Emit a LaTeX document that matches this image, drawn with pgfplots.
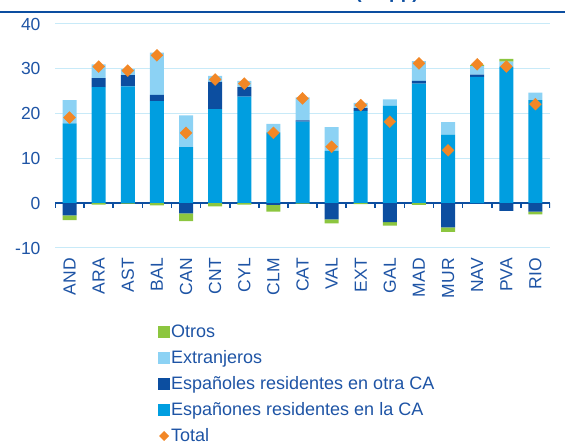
\documentclass[border=0pt]{standalone}
\usepackage{fontspec}
\setmainfont{Liberation Sans}
\usepackage{pgfplots}
\pgfplotsset{compat=1.18}
\usepackage{pgfplotstable}
\definecolor{cmid}{RGB}{0,158,224}
\definecolor{cdark}{RGB}{12,78,160}
\definecolor{clight}{RGB}{140,210,244}
\definecolor{cgreen}{RGB}{140,198,63}
\definecolor{corange}{RGB}{242,135,38}
\definecolor{ctext}{RGB}{30,84,165}
\definecolor{cgrid}{RGB}{200,234,248}

% mid=Espanones en la CA, dpos/dneg=Espanoles otra CA, light=Extranjeros, gpos/gneg=Otros
\pgfplotstableread{
x mid dpos light gpos dneg gneg total
0 17.8 0 5.2 0 -2.7 -1.1 19.1
1 25.9 2.0 3.1 0 0 -0.3 30.5
2 26.1 2.5 1.3 0 0 -0.1 29.6
3 22.8 1.4 9.4 0 0 -0.5 33.0
4 12.5 0 7.1 0 -2.3 -1.7 15.7
5 21.0 6.1 1.3 0 0 -0.7 27.6
6 23.8 2.1 1.4 0 0 -0.3 26.7
7 15.8 0 1.9 0 -0.4 -1.5 15.7
8 18.2 0.3 5.1 0 0 -0.1 23.4
9 11.7 0 5.3 0 -3.6 -0.9 12.6
10 20.6 0.6 1.2 0 0 -0.2 21.9
11 21.8 0 1.4 0 -4.2 -0.8 18.2
12 26.7 0.6 4.4 0 0 -0.4 31.2
13 15.3 0 2.8 0 -5.4 -1.0 11.8
14 28.2 0.5 1.9 0.3 0 0 31.0
15 30.5 0 1.1 0.6 -1.7 0 30.5
16 23.0 0 1.7 0 -1.9 -0.6 22.1
}\data

\pgfplotsset{
  sqlegend/.style={legend image code/.code={\fill[##1, draw=none] (0pt,-6pt) rectangle (12pt,6pt);}},
  diamlegend/.style={legend image code/.code={\path[draw=none, fill=none] (0pt,-6pt) rectangle (12pt,6pt);
      \fill[corange, draw=none] (6pt,-5pt) -- (11pt,0pt) -- (6pt,5pt) -- (1pt,0pt) -- cycle;}},
  common/.style={
    at={(55pt,195pt)}, anchor=south west,
    scale only axis, width=495pt, height=224pt,
    xmin=-0.5, xmax=16.5, ymin=-10, ymax=40,
  }
}

\begin{document}
\begin{tikzpicture}
\useasboundingbox (0,0) rectangle (565pt,443pt);
\draw[cdark, line width=2pt] (0pt,431pt) -- (565pt,431pt);
\node[anchor=base east, inner sep=0pt, text=cdark, font=\bfseries\fontsize{19}{22}\selectfont] at (419pt,444pt) {(en pp)};

\begin{axis}[common,
  ybar stacked, stack negative=separate, bar width=14pt,
  axis line style={draw=none},
  major tick length=0pt,
  ytick={-10,0,10,20,30,40},
  xtick={0,...,16},
  xticklabels={AND,ARA,AST,BAL,CAN,CNT,CYL,CLM,CAT,VAL,EXT,GAL,MAD,MUR,NAV,PVA,RIO},
  ymajorgrids, grid style={cgrid, line width=1pt},
  /pgf/number format/assume math mode=true,
  tick label style={text=ctext, font=\fontsize{17.5}{20}\selectfont},
  yticklabel style={xshift=-11pt},
  xticklabel style={rotate=90, anchor=east, inner xsep=10pt},
  legend cell align=left,
  legend style={at={(0.208,-0.34)}, anchor=north west, draw=none, fill=none,
    font=\fontsize{18}{21}\selectfont, text=ctext, row sep=9.4pt, inner sep=0pt,
    nodes={inner sep=1pt}},
]
\addlegendimage{sqlegend, fill=cgreen, draw=none}
\addlegendentry{Otros}
\addlegendimage{sqlegend, fill=clight, draw=none}
\addlegendentry{Extranjeros}
\addlegendimage{sqlegend, fill=cdark, draw=none}
\addlegendentry{Españoles residentes en otra CA}
\addlegendimage{sqlegend, fill=cmid, draw=none}
\addlegendentry{Españones residentes en la CA}
\addlegendimage{diamlegend, draw=none, fill=none}
\addlegendentry{Total}

\addplot[forget plot, fill=cdark, draw=none] table[x=x, y=dneg] {\data};
\addplot[forget plot, fill=cgreen, draw=none] table[x=x, y=gneg] {\data};
\addplot[forget plot, fill=cmid, draw=none] table[x=x, y=mid] {\data};
\addplot[forget plot, fill=cdark, draw=none] table[x=x, y=dpos] {\data};
\addplot[forget plot, fill=clight, draw=none] table[x=x, y=light] {\data};
\addplot[forget plot, fill=cgreen, draw=none] table[x=x, y=gpos] {\data};

\draw[cdark, line width=2pt] (axis cs:-0.5,0) -- (axis cs:16.5,0);
\pgfplotsinvokeforeach{-0.5,0.5,...,16.5}{
  \draw[cdark, line width=1.6pt] (axis cs:#1,0) -- ++(0pt,-5pt);
}
\end{axis}

\begin{axis}[common, hide axis]
\addplot[corange, only marks, mark=square*, mark size=4.2pt,
  mark options={rotate=45, fill=corange, draw=corange}] table[x=x, y=total] {\data};
\end{axis}
\end{tikzpicture}
\end{document}
